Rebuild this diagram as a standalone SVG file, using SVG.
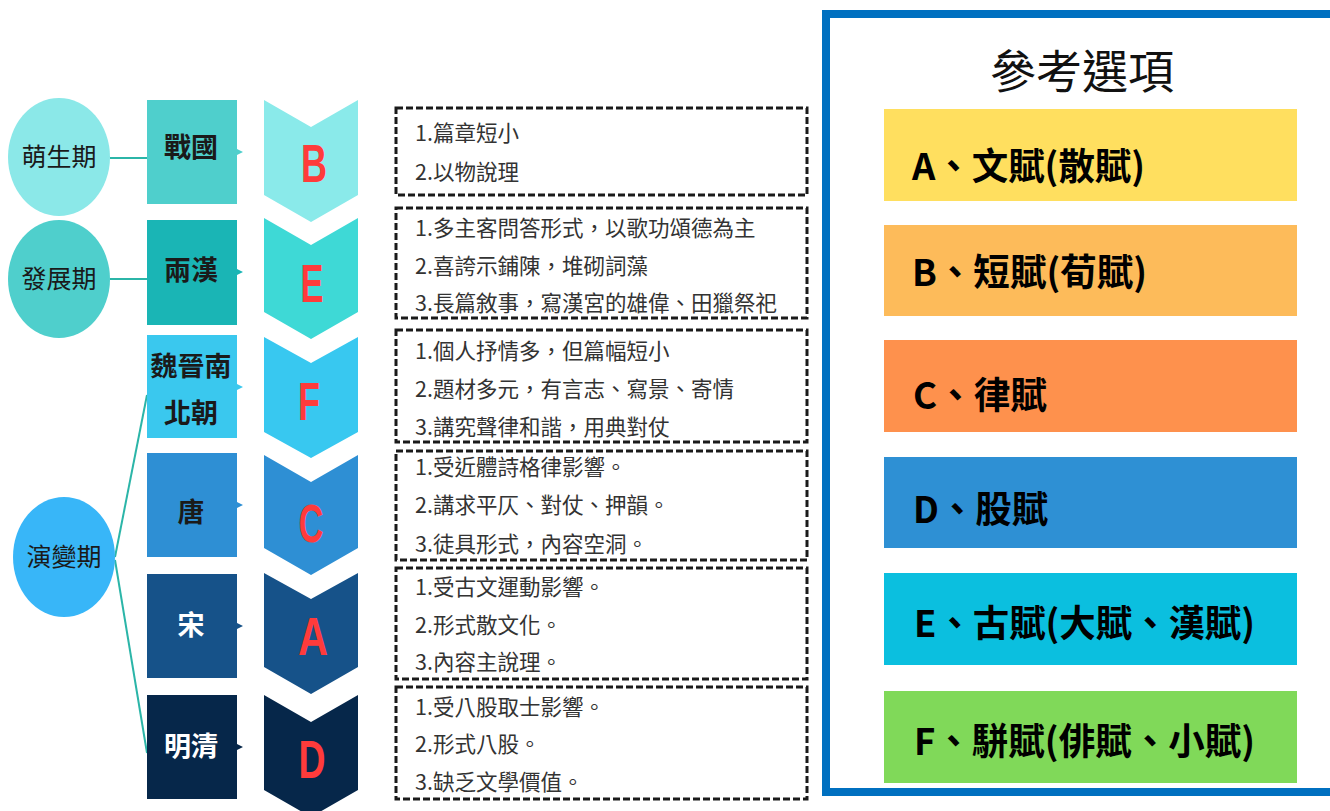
<svg xmlns="http://www.w3.org/2000/svg" width="1330" height="811" viewBox="0 0 1330 811">
<style>
.cj{font-family:"Noto Sans CJK TC","Noto Sans CJK SC",sans-serif}
.circ{font-size:25px;fill:#1a1a1a;text-anchor:middle}
.per{font-size:27px;font-weight:bold;text-anchor:middle}
.let{font-family:"Liberation Sans",Arial,sans-serif;font-size:54px;font-weight:bold;fill:#ff3b3b;text-anchor:middle}
.note{font-size:21.5px;fill:#333}
.dash{fill:none;stroke:#1a1a1a;stroke-width:3;stroke-dasharray:7 3}
.opt{font-size:37px;font-weight:bold;fill:#000}
.conn{stroke:#2bb5a8;stroke-width:2;fill:none}
</style>
<rect width="1330" height="811" fill="#fff"/>

<g id="connectors">
<line class="conn" x1="110" y1="158" x2="147" y2="158"/>
<line class="conn" x1="110" y1="279" x2="147" y2="279"/>
<line class="conn" x1="115" y1="557" x2="147" y2="395"/>
<line class="conn" x1="115" y1="560" x2="147" y2="753"/>
<polygon points="237,149 243,152 237,155" fill="#4fcfcc"/>
<polygon points="237,269 243,272 237,275" fill="#1ab5b5"/>
<polygon points="237,384 243,387 237,390" fill="#3ac8ee"/>
<polygon points="237,502 243,505 237,508" fill="#2e8fd4"/>
<polygon points="237,623 243,626 237,629" fill="#165289"/>
<polygon points="237,744 243,747 237,750" fill="#06274a"/>
</g>

<g id="stage1"><ellipse cx="59" cy="157" rx="51" ry="59" fill="#8be8e8"/><text class="cj circ" x="59" y="166">萌生期</text></g>
<g id="stage2"><ellipse cx="59" cy="279" rx="51" ry="59" fill="#4fcfcc"/><text class="cj circ" x="59" y="288">發展期</text></g>
<g id="stage3"><ellipse cx="64" cy="557" rx="51" ry="60" fill="#38b6f8"/><text class="cj circ" x="64" y="566">演變期</text></g>

<g id="p1"><rect x="147" y="100" width="90" height="104" fill="#4fcfcc"/><text class="cj per" x="191" y="157" fill="#1a1a1a">戰國</text></g>
<g id="p2"><rect x="147" y="220" width="90" height="105" fill="#1ab5b5"/><text class="cj per" x="191" y="280" fill="#1a1a1a">兩漢</text></g>
<g id="p3"><rect x="147" y="335" width="90" height="103" fill="#3ac8ee"/><text class="cj per" x="191" y="376" fill="#1a1a1a">魏晉南</text><text class="cj per" x="191" y="423" fill="#1a1a1a">北朝</text></g>
<g id="p4"><rect x="147" y="453" width="90" height="104" fill="#2e8fd4"/><text class="cj per" x="191" y="522" fill="#1a1a1a">唐</text></g>
<g id="p5"><rect x="147" y="574" width="90" height="104" fill="#165289"/><text class="cj per" x="191" y="635" fill="#fff">宋</text></g>
<g id="p6"><rect x="147" y="695" width="90" height="104" fill="#06274a"/><text class="cj per" x="191" y="756" fill="#fff">明清</text></g>

<g id="c1"><polygon points="264,100 311,127 358,100 358,195 311,222 264,195" fill="#8aeaea"/><text class="let" x="314" y="182" textLength="26" lengthAdjust="spacingAndGlyphs">B</text></g>
<g id="c2"><polygon points="264,218 311,245 358,218 358,312 311,339 264,312" fill="#3ed9d6"/><text class="let" x="312" y="302" textLength="23" lengthAdjust="spacingAndGlyphs">E</text></g>
<g id="c3"><polygon points="264,337 311,363 358,337 358,432 311,458 264,432" fill="#38c8f0"/><text class="let" x="309" y="420" textLength="22" lengthAdjust="spacingAndGlyphs">F</text></g>
<g id="c4"><polygon points="264,455 311,482 358,455 358,548 311,575 264,548" fill="#2e8fd4"/><text class="let" x="311" y="542" textLength="25" lengthAdjust="spacingAndGlyphs">C</text></g>
<g id="c5"><polygon points="264,573 311,599 358,573 358,667 311,694 264,667" fill="#165289"/><text class="let" x="313" y="655" textLength="30" lengthAdjust="spacingAndGlyphs">A</text></g>
<g id="c6"><polygon points="264,695 311,722 358,695 358,790 311,817 264,790" fill="#06274a"/><text class="let" x="312" y="778" textLength="27" lengthAdjust="spacingAndGlyphs">D</text></g>

<g id="d1"><rect class="dash" x="396" y="108" width="411" height="87"/>
<text class="cj note" x="415" y="141">1.篇章短小</text>
<text class="cj note" x="415" y="180">2.以物說理</text></g>
<g id="d2"><rect class="dash" x="396" y="208" width="411" height="110"/>
<text class="cj note" x="415" y="236">1.多主客問答形式，以歌功頌德為主</text>
<text class="cj note" x="415" y="274">2.喜誇示鋪陳，堆砌詞藻</text>
<text class="cj note" x="415" y="311">3.長篇敘事，寫漢宮的雄偉、田獵祭祀</text></g>
<g id="d3"><rect class="dash" x="396" y="330" width="411" height="112"/>
<text class="cj note" x="415" y="359">1.個人抒情多，但篇幅短小</text>
<text class="cj note" x="415" y="397">2.題材多元，有言志、寫景、寄情</text>
<text class="cj note" x="415" y="435">3.講究聲律和諧，用典對仗</text></g>
<g id="d4"><rect class="dash" x="396" y="451" width="411" height="109"/>
<text class="cj note" x="415" y="475">1.受近體詩格律影響。</text>
<text class="cj note" x="415" y="513">2.講求平仄、對仗、押韻。</text>
<text class="cj note" x="415" y="552">3.徒具形式，內容空洞。</text></g>
<g id="d5"><rect class="dash" x="396" y="568" width="411" height="111"/>
<text class="cj note" x="415" y="595">1.受古文運動影響。</text>
<text class="cj note" x="415" y="633">2.形式散文化。</text>
<text class="cj note" x="415" y="670">3.內容主說理。</text></g>
<g id="d6"><rect class="dash" x="396" y="687" width="411" height="112"/>
<text class="cj note" x="415" y="715">1.受八股取士影響。</text>
<text class="cj note" x="415" y="752">2.形式八股。</text>
<text class="cj note" x="415" y="790">3.缺乏文學價值。</text></g>

<g id="panel">
<rect x="826" y="14" width="520" height="778" fill="#fff" stroke="#0070c0" stroke-width="8"/>
<text class="cj" x="1082" y="88" font-size="46" text-anchor="middle" fill="#111">參考選項</text>
</g>
<g id="optA"><rect x="884" y="109" width="413" height="92" fill="#ffdf5f"/><text class="cj opt" x="912" y="180" textLength="233" lengthAdjust="spacingAndGlyphs">A、文賦(散賦)</text></g>
<g id="optB"><rect x="884" y="225" width="413" height="91" fill="#fdbb5a"/><text class="cj opt" x="912" y="286" textLength="235" lengthAdjust="spacingAndGlyphs">B、短賦(荀賦)</text></g>
<g id="optC"><rect x="884" y="340" width="413" height="92" fill="#fe914d"/><text class="cj opt" x="913" y="409" textLength="134" lengthAdjust="spacingAndGlyphs">C、律賦</text></g>
<g id="optD"><rect x="884" y="457" width="413" height="91" fill="#2e90d4"/><text class="cj opt" x="913" y="523" textLength="135" lengthAdjust="spacingAndGlyphs">D、股賦</text></g>
<g id="optE"><rect x="884" y="573" width="413" height="92" fill="#0bbfdf"/><text class="cj opt" x="914" y="637" textLength="341" lengthAdjust="spacingAndGlyphs">E、古賦(大賦、漢賦)</text></g>
<g id="optF"><rect x="884" y="691" width="413" height="92" fill="#80d959"/><text class="cj opt" x="914" y="755" textLength="341" lengthAdjust="spacingAndGlyphs">F、駢賦(俳賦、小賦)</text></g>
</svg>
